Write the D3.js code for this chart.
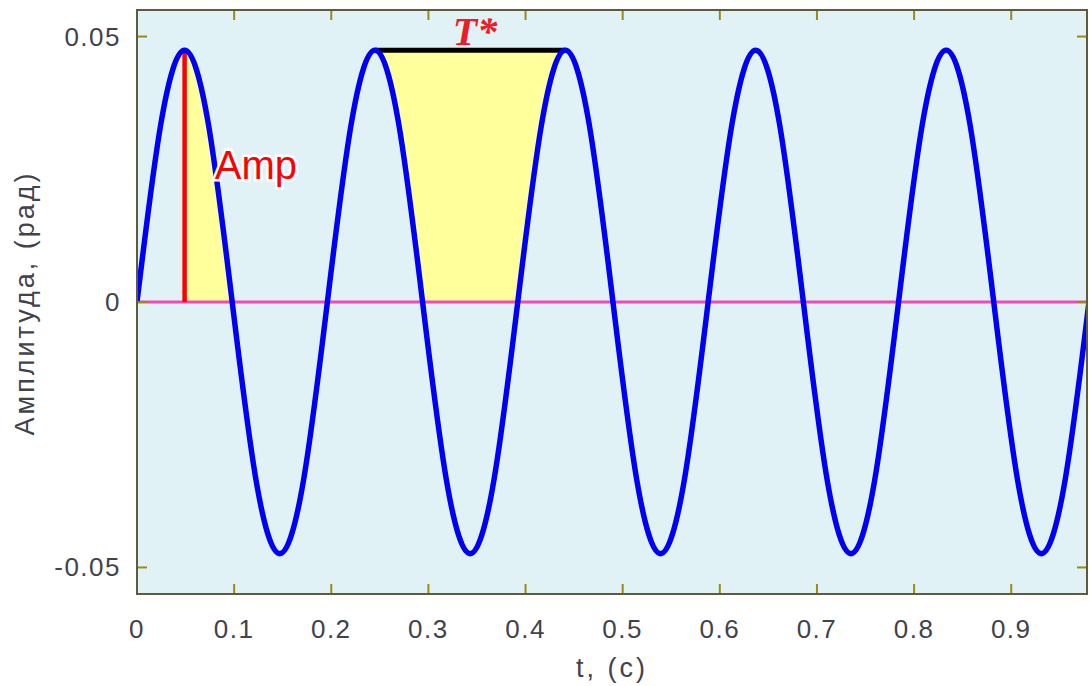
<!DOCTYPE html>
<html lang="ru">
<head>
<meta charset="UTF-8">
<title>Амплитуда</title>
<script src="https://cdn.jsdelivr.net/npm/d3@7"></script>
<style>
    body { margin: 0; background: #fff; }
    svg { display: block; }
    .tick-label { font-family: Arial, "Liberation Sans", sans-serif; font-size: 26px; fill: #42424c; letter-spacing: 1.5px; }
    .axis-title { font-family: Arial, "Liberation Sans", sans-serif; font-size: 27px; fill: #42424c; letter-spacing: 3px; }
</style>
</head>
<body>
<script>
    // отсчёты синусоиды (каждые 1/8 периода)
    const tValues = [0, 0.0245, 0.049, 0.0735, 0.098, 0.1225, 0.147, 0.1715, 0.196, 0.2205,
                     0.245, 0.2695, 0.294, 0.3185, 0.343, 0.3675, 0.392, 0.4165, 0.441, 0.4655,
                     0.49, 0.5145, 0.539, 0.5635, 0.588, 0.6125, 0.637, 0.6615, 0.686, 0.7105,
                     0.735, 0.7595, 0.784, 0.8085, 0.833, 0.8575, 0.882, 0.9065, 0.931, 0.9555, 0.98];
    const ampValues = [0, 0.0335, 0.0474, 0.0335, 0, -0.0335, -0.0474, -0.0335, 0, 0.0335,
                       0.0474, 0.0335, 0, -0.0335, -0.0474, -0.0335, 0, 0.0335, 0.0474, 0.0335,
                       0, -0.0335, -0.0474, -0.0335, 0, 0.0335, 0.0474, 0.0335, 0, -0.0335,
                       -0.0474, -0.0335, 0, 0.0335, 0.0474, 0.0335, 0, -0.0335, -0.0474, -0.0335, 0];

    const xTicks = [0, 0.1, 0.2, 0.3, 0.4, 0.5, 0.6, 0.7, 0.8, 0.9];
    const xTickLabels = ["0", "0.1", "0.2", "0.3", "0.4", "0.5", "0.6", "0.7", "0.8", "0.9"];
    const yTicks = [-0.05, 0, 0.05];
    const yTickLabels = ["-0.05", "0", "0.05"];

    // аннотации: амплитуда и период
    const ampT = [0.049, 0.098];      // пик и следующий ноль
    const periodT = [0.245, 0.441];   // два соседних пика
    const peakValue = 0.0474;

    const data = tValues.map((t, i) => ({ t: t, v: ampValues[i] }));

    const W = 1089, H = 686;
    const pLeft = 137, pRight = 1087, pTop = 10, pBottom = 594;

    const x = d3.scaleLinear().domain([0, 0.978]).range([pLeft, pRight]);
    const y = d3.scaleLinear().domain([-0.055, 0.055]).range([pBottom, pTop]);

    const svg = d3.select("body").append("svg")
        .attr("width", W)
        .attr("height", H);

    const defs = svg.append("defs");
    defs.append("clipPath").attr("id", "plot-clip")
        .append("rect")
        .attr("x", pLeft).attr("y", pTop)
        .attr("width", pRight - pLeft).attr("height", pBottom - pTop);
    defs.append("clipPath").attr("id", "amp-clip")
        .append("rect")
        .attr("x", x(ampT[0])).attr("y", y(peakValue) - 5)
        .attr("width", x(ampT[1]) - x(ampT[0])).attr("height", y(0) - y(peakValue) + 5);
    defs.append("clipPath").attr("id", "period-clip")
        .append("rect")
        .attr("x", x(periodT[0])).attr("y", y(peakValue))
        .attr("width", x(periodT[1]) - x(periodT[0])).attr("height", y(0) - y(peakValue));

    /* фон области графика */
    svg.append("rect")
        .attr("x", pLeft).attr("y", pTop)
        .attr("width", pRight - pLeft).attr("height", pBottom - pTop)
        .attr("fill", "#e1f2f7");

    const plot = svg.append("g").attr("clip-path", "url(#plot-clip)");

    /* жёлтые заливки */
    const areaToZero = d3.area()
        .x(d => x(d.t))
        .y0(y(0))
        .y1(d => y(d.v))
        .curve(d3.curveNatural);
    plot.append("path")
        .datum(data)
        .attr("d", areaToZero)
        .attr("fill", "#ffff9c")
        .attr("clip-path", "url(#amp-clip)");

    const areaToPeak = d3.area()
        .x(d => x(d.t))
        .y0(y(peakValue))
        .y1(d => y(d.v))
        .curve(d3.curveNatural);
    plot.append("path")
        .datum(data)
        .attr("d", areaToPeak)
        .attr("fill", "#ffff9c")
        .attr("clip-path", "url(#period-clip)");

    /* нулевая линия */
    plot.append("line")
        .attr("x1", pLeft).attr("x2", pRight)
        .attr("y1", y(0)).attr("y2", y(0))
        .attr("stroke", "#f548b4")
        .attr("stroke-width", 3);

    /* амплитуда - красная линия */
    plot.append("line")
        .attr("x1", x(ampT[0])).attr("x2", x(ampT[0]))
        .attr("y1", y(0)).attr("y2", y(peakValue))
        .attr("stroke", "#ff0000")
        .attr("stroke-width", 4.5);

    /* период - чёрная линия */
    plot.append("line")
        .attr("x1", x(periodT[0])).attr("x2", x(periodT[1]))
        .attr("y1", y(peakValue)).attr("y2", y(peakValue))
        .attr("stroke", "#000")
        .attr("stroke-width", 5);

    /* синусоида */
    const line = d3.line()
        .x(d => x(d.t))
        .y(d => y(d.v))
        .curve(d3.curveNatural);
    plot.append("path")
        .datum(data)
        .attr("d", line)
        .attr("fill", "none")
        .attr("stroke", "#0000f5")
        .attr("stroke-width", 5.5)
        .attr("stroke-linejoin", "round");

    /* рамка и засечки */
    const tickLen = 10;
    const tickColor = "#9c8a10";
    const frame = svg.append("g");
    xTicks.forEach(t => {
        frame.append("line")
            .attr("x1", x(t)).attr("x2", x(t))
            .attr("y1", pBottom).attr("y2", pBottom - tickLen)
            .attr("stroke", tickColor).attr("stroke-width", 2);
        frame.append("line")
            .attr("x1", x(t)).attr("x2", x(t))
            .attr("y1", pTop).attr("y2", pTop + tickLen)
            .attr("stroke", tickColor).attr("stroke-width", 2);
    });
    yTicks.forEach(v => {
        frame.append("line")
            .attr("x1", pLeft).attr("x2", pLeft + tickLen)
            .attr("y1", y(v)).attr("y2", y(v))
            .attr("stroke", tickColor).attr("stroke-width", 2);
        frame.append("line")
            .attr("x1", pRight).attr("x2", pRight - tickLen)
            .attr("y1", y(v)).attr("y2", y(v))
            .attr("stroke", tickColor).attr("stroke-width", 2);
    });
    frame.append("rect")
        .attr("x", pLeft).attr("y", pTop)
        .attr("width", pRight - pLeft).attr("height", pBottom - pTop)
        .attr("fill", "none")
        .attr("stroke", "#5e5a3c")
        .attr("stroke-width", 2);

    /* подписи делений */
    svg.append("g").selectAll("text")
        .data(xTicks)
        .enter()
        .append("text")
        .attr("class", "tick-label")
        .attr("x", d => x(d))
        .attr("y", 638)
        .attr("text-anchor", "middle")
        .text((d, i) => xTickLabels[i]);

    svg.append("g").selectAll("text")
        .data(yTicks)
        .enter()
        .append("text")
        .attr("class", "tick-label")
        .attr("x", 121)
        .attr("y", d => y(d) + 9)
        .attr("text-anchor", "end")
        .text((d, i) => yTickLabels[i]);

    /* названия осей */
    svg.append("text")
        .attr("class", "axis-title")
        .attr("x", (pLeft + pRight) / 2)
        .attr("y", 677)
        .attr("text-anchor", "middle")
        .text("t, (c)");

    svg.append("text")
        .attr("class", "axis-title")
        .attr("transform", "translate(34, 303) rotate(-90)")
        .attr("text-anchor", "middle")
        .text("Амплитуда, (рад)");

    /* метки аннотаций */
    svg.append("text")
        .attr("x", x(0.08))
        .attr("y", y(0.0232))
        .attr("font-family", "Arial, 'Liberation Sans', sans-serif")
        .attr("font-size", 40)
        .attr("fill", "#ff0000")
        .attr("stroke", "#ffffff")
        .attr("stroke-width", 5)
        .attr("paint-order", "stroke")
        .text("Amp");

    svg.append("text")
        .attr("x", x(0.348))
        .attr("y", y(0.0485))
        .attr("text-anchor", "middle")
        .attr("font-family", "'Liberation Serif', 'Times New Roman', serif")
        .attr("font-style", "italic")
        .attr("font-weight", "bold")
        .attr("font-size", 40)
        .attr("fill", "#ee1c24")
        .text("T*");
</script>
</body>
</html>
